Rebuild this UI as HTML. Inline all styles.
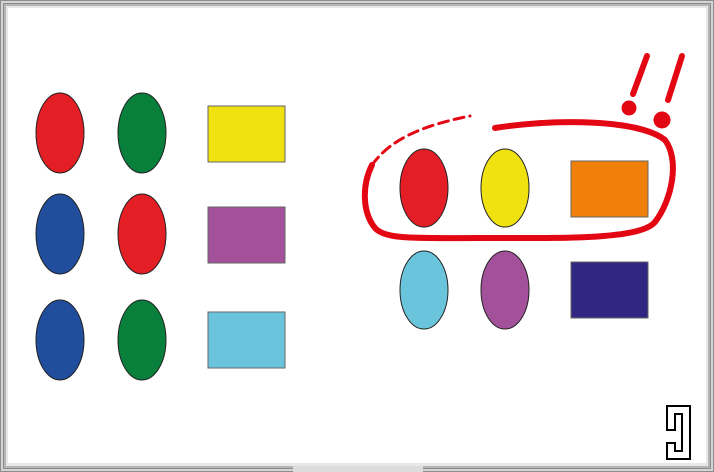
<!DOCTYPE html>
<html><head><meta charset="utf-8"><style>
html,body{margin:0;padding:0;background:#fff}
svg{display:block}
</style></head><body>
<svg width="714" height="472" viewBox="0 0 714 472">
<rect x="0" y="0" width="714" height="472" fill="#8c8c8c"/>
<rect x="2" y="2" width="710" height="468" fill="none" stroke="#d4d4d4" stroke-width="2"/>
<rect x="4" y="4" width="706" height="464" fill="#b5b5b5"/>
<rect x="6" y="6" width="702" height="460" fill="#e8e8e8"/>
<rect x="8" y="8" width="698" height="455" fill="#fff"/>
<rect x="293" y="466" width="130" height="6" fill="#dcdcdc"/>
<g stroke="#222" stroke-width="1">
<ellipse cx="60" cy="133" rx="24" ry="40" fill="#e31e24"/>
<ellipse cx="142" cy="133" rx="24" ry="40" fill="#087f3a"/>
<ellipse cx="60" cy="234" rx="24" ry="40" fill="#204e9c"/>
<ellipse cx="142" cy="234" rx="24" ry="40" fill="#e31e24"/>
<ellipse cx="60" cy="340" rx="24" ry="40" fill="#204e9c"/>
<ellipse cx="142" cy="340" rx="24" ry="40" fill="#087f3a"/>
<ellipse cx="424" cy="188" rx="24" ry="39" fill="#e31e24"/>
<ellipse cx="505" cy="188" rx="24" ry="39" fill="#f0e211"/>
<ellipse cx="424" cy="290" rx="24" ry="39" fill="#6ac5dc"/>
<ellipse cx="505" cy="290" rx="24" ry="39" fill="#a4519b"/>
</g>
<g stroke="#666" stroke-width="1">
<rect x="208" y="106" width="77" height="56" fill="#f0e211"/>
<rect x="208" y="207" width="77" height="56" fill="#a4519b"/>
<rect x="208" y="312" width="77" height="56" fill="#6ac5dc"/>
<rect x="571" y="161" width="77" height="56" fill="#f08009"/>
<rect x="571" y="262" width="77" height="56" fill="#312783"/>
</g>
<g fill="none" stroke="#e30613" stroke-linecap="round">
<path d="M495,128 C560,118 640,120 665,140 C680,160 672,200 655,222 C640,240 560,238 480,238 C420,238 385,240 375,228 C362,212 362,185 372,165" stroke-width="6"/>
<path d="M372,165 C390,140 420,126 470,116" stroke-width="3" stroke-dasharray="10 6"/>
</g>
<g stroke="#e30613" stroke-linecap="round" fill="#e30613">
<path d="M647,56 L633,94" stroke-width="6"/>
<circle cx="629" cy="108" r="7"/>
<path d="M682,56 L668,100" stroke-width="6"/>
<circle cx="662" cy="120" r="8"/>
</g>
<g fill="none" stroke="#000" stroke-width="2">
<path d="M667,406 L690,406 L690,459 L667,459 L667,443 L675,443 L675,451 L682,451 L682,414 L675,414 L675,430 L667,430 Z"/>
</g>
</svg>
</body></html>
